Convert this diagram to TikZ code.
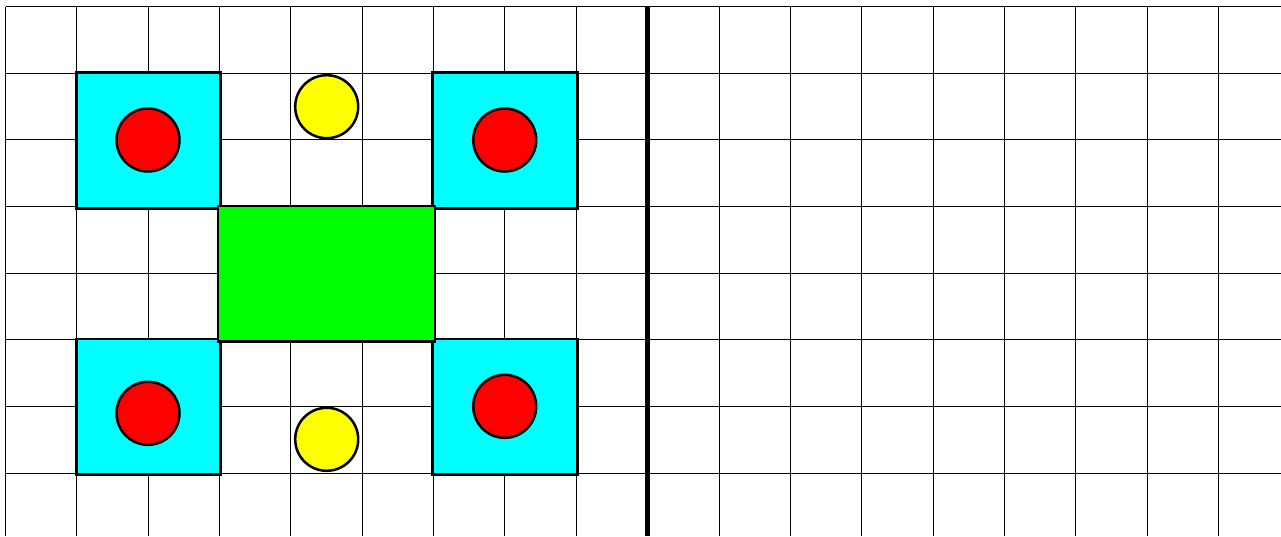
\documentclass[tikz,border=0pt]{standalone}
\usetikzlibrary{calc}
\definecolor{boxcyan}{HTML}{00FFFF}
\definecolor{boxgreen}{HTML}{00FF00}
\definecolor{dotred}{HTML}{FF0000}
\definecolor{dotyellow}{HTML}{FFFF00}
\tikzset{
  gridline/.style={line width=1pt, draw=black},
  divider/.style={line width=5.5pt, draw=black},
  cyanbox/.style={fill=boxcyan, draw=black, line width=2.5pt},
  greenbox/.style={fill=boxgreen, draw=black, line width=2.5pt},
  reddot/.style={circle, fill=dotred, draw=black, line width=2.5pt, minimum size=63pt, inner sep=0pt},
  yellowdot/.style={circle, fill=dotyellow, draw=black, line width=2.5pt, minimum size=63pt, inner sep=0pt}
}
\begin{document}
\begin{tikzpicture}[x=1pt, y=-1pt]
\useasboundingbox (0,0) rectangle (1281,536);
\fill[white] (0,0) rectangle (1281,536);
% grid
\foreach \i in {0,...,17} \draw[gridline] ({5.5+71.35*\i},6.5) -- ({5.5+71.35*\i},536);
\foreach \j in {0,...,7} \draw[gridline] (5.5,{6.5+66.67*\j}) -- (1281,{6.5+66.67*\j});
% divider
\draw[divider] (647.7,6.5) -- (647.7,536);
% cyan boxes
\draw[cyanbox] (76.5,72.5) rectangle (220.5,208.3);
\draw[cyanbox] (432.5,72.5) rectangle (577.5,208.3);
\draw[cyanbox] (76.5,339) rectangle (220.5,474.3);
\draw[cyanbox] (432.5,339) rectangle (577.5,474.3);
% green box
\draw[greenbox] (218,206) rectangle (435,341.5);
% red dots
\node[reddot] (r1) at (148,140) {};
\node[reddot] (r2) at (504.7,140) {};
\node[reddot] (r3) at (148,413.3) {};
\node[reddot] (r4) at (504.7,406.3) {};
% yellow dots
\node[yellowdot] (y1) at (326.7,106.7) {};
\node[yellowdot] (y2) at (326.7,439.3) {};
\end{tikzpicture}
\end{document}
